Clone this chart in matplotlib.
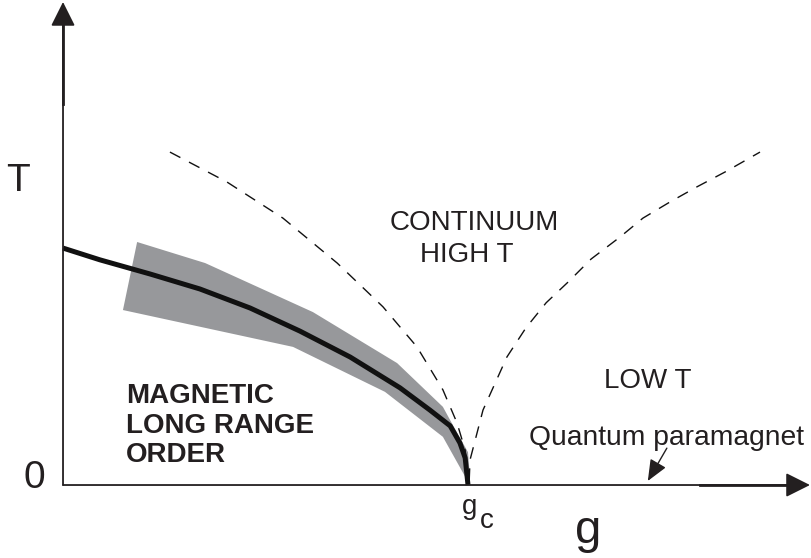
import matplotlib
matplotlib.use("Agg")
import matplotlib.pyplot as plt

# ---- data (g in units of g_c, T in same scale) ----
neel_g = [0.0, 0.091, 0.215, 0.338, 0.462, 0.585, 0.709, 0.832, 0.906, 0.956, 0.980, 0.993, 1.0]
neel_T = [0.585, 0.556, 0.521, 0.484, 0.437, 0.380, 0.316, 0.240, 0.185, 0.146, 0.104, 0.067, 0.0]

band_g = [0.183, 0.351, 0.617, 0.825, 0.938, 0.956, 1.0, 1.005,
          0.995, 0.938, 0.795, 0.568, 0.148]
band_T = [0.600, 0.548, 0.427, 0.301, 0.193, 0.160, 0.081, 0.017,
          0.017, 0.119, 0.230, 0.341, 0.432]

left_g = [0.264, 0.405, 0.543, 0.677, 0.790, 0.874, 0.938, 0.973, 0.993, 1.0]
left_T = [0.822, 0.748, 0.659, 0.548, 0.440, 0.341, 0.235, 0.153, 0.086, 0.012]

right_g = [1.003, 1.005, 1.037, 1.096, 1.143, 1.193, 1.247, 1.304,
           1.375, 1.432, 1.499, 1.565, 1.635, 1.721]
right_T = [0.012, 0.062, 0.185, 0.316, 0.388, 0.450, 0.501, 0.558,
           0.612, 0.659, 0.699, 0.736, 0.773, 0.822]

TXT = "#231f20"
GRAY = "#97989b"

plt.rcParams['font.family'] = ['Liberation Sans', 'DejaVu Sans']

fig = plt.figure(figsize=(8.12, 5.58), dpi=100)
ax = fig.add_axes([0, 0, 1, 1])
ax.set_xlim(-0.1556, 1.8494)
ax.set_ylim(-0.1802, 1.1975)
ax.axis('off')

# band and curve
ax.fill(band_g, band_T, color=GRAY, lw=0, zorder=2)
ax.plot(neel_g, neel_T, color="#111111", lw=3.6, solid_capstyle='butt',
        solid_joinstyle='round', zorder=3)

# dashed crossovers
ax.plot(left_g, left_T, color="#111111", lw=1.0, dashes=(8.5, 7), zorder=3)
ax.plot(right_g, right_T, color="#111111", lw=1.0, dashes=(8.5, 7), zorder=3)

# axes with arrows
arrow_style = "-|>,head_length=1.5,head_width=0.75"
ax.annotate("", xy=(0, 1.1926), xytext=(0, 0), xycoords='data',
            arrowprops=dict(arrowstyle=arrow_style, color=TXT, lw=1.3,
                            shrinkA=0, shrinkB=0, mutation_scale=10), zorder=4)
ax.annotate("", xy=(1.8444, 0), xytext=(0, 0), xycoords='data',
            arrowprops=dict(arrowstyle=arrow_style, color=TXT, lw=1.3,
                            shrinkA=0, shrinkB=0, mutation_scale=10), zorder=4)
ax.plot([0, 0], [0.94, 1.15], color=TXT, lw=2.0, zorder=4)
ax.plot([1.573, 1.80], [0, 0], color=TXT, lw=2.0, zorder=4)

# small arrow to the axis
ax.annotate("", xy=(1.444, 0.010), xytext=(1.491, 0.091), xycoords='data',
            arrowprops=dict(arrowstyle="-|>,head_length=1.3,head_width=0.55",
                            color=TXT, lw=1.0, shrinkA=0, shrinkB=0,
                            mutation_scale=10), zorder=4)

# texts
ax.text(-0.111, 0.751, "T", fontsize=28, color=TXT, ha='center', va='center')
ax.text(-0.0704, 0.0185, "0", fontsize=28, color=TXT, ha='center', va='center')
ax.text(1.296, -0.143, "g", fontsize=34, color=TXT, ha='center', va='baseline')
ax.text(1.004, -0.0716, "g", fontsize=20, color=TXT, ha='center', va='baseline')
ax.text(1.046, -0.106, "c", fontsize=20, color=TXT, ha='center', va='baseline')

ax.text(1.016, 0.630, "CONTINUUM", fontsize=20, color=TXT, ha='center', va='baseline')
ax.text(0.998, 0.551, "HIGH T", fontsize=20, color=TXT, ha='center', va='baseline')
ax.text(1.444, 0.240, "LOW T", fontsize=20, color=TXT, ha='center', va='baseline')
ax.text(1.151, 0.0988, "Quantum paramagnet", fontsize=20.3, color=TXT,
        ha='left', va='baseline')

for label, tv in [("MAGNETIC", 0.2025), ("LONG RANGE", 0.128), ("ORDER", 0.0568)]:
    ax.text(0.156, tv, label, fontsize=20, fontweight='bold', color=TXT,
            ha='left', va='baseline')

fig.savefig("out.png", dpi=100)
